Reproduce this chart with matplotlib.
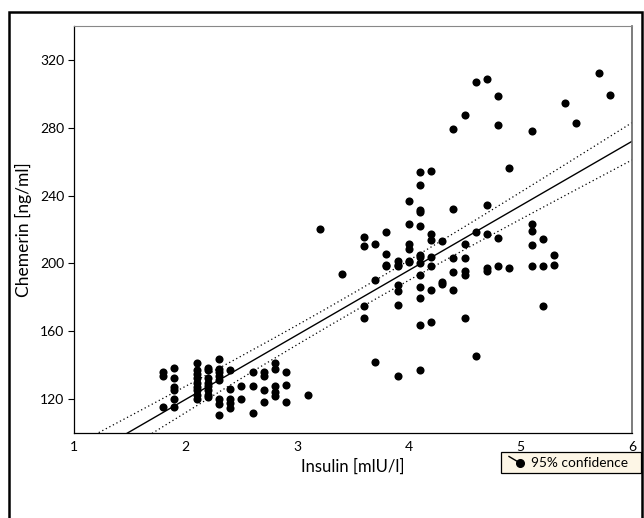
import numpy as np
import matplotlib
matplotlib.use("Agg")
import matplotlib.pyplot as plt
from matplotlib.patches import Rectangle
from matplotlib.lines import Line2D

plt.rcParams['font.family'] = ['Lato', 'DejaVu Sans']

# Data: (insulin, chemerin) grouped by insulin value
insulin_groups = [1.8, 1.9, 2.1, 2.2, 2.3, 2.4, 2.5, 2.6, 2.7, 2.8, 2.9, 3.1, 3.2, 3.4,
                  3.6, 3.7, 3.8, 3.9, 4.0, 4.1, 4.2, 4.3, 4.4, 4.5, 4.6, 4.7, 4.8, 4.9,
                  5.1, 5.2, 5.3, 5.4, 5.5, 5.7, 5.8]
chemerin_groups = [
    [135.7, 133.8, 115.3],
    [138.3, 132.4, 126.9, 125.5, 120.0, 115.3],
    [141.2, 137.0, 135.0, 132.4, 129.4, 127.0, 125.5, 122.5, 119.8],
    [138.3, 136.9, 132.4, 129.4, 127.5, 125.5, 122.6, 121.2],
    [143.8, 137.9, 136.0, 133.5, 131.4, 120.0, 117.2, 110.8],
    [136.9, 125.9, 120.0, 117.5, 114.5],
    [128.0, 120.0],
    [135.7, 127.9, 111.7],
    [135.7, 133.4, 125.5, 118.4],
    [141.2, 137.7, 127.9, 123.9, 121.6],
    [135.7, 128.3, 118.0],
    [122.2],
    [220.4],
    [193.9],
    [215.5, 210.4, 175.0, 167.7],
    [211.6, 190.0, 141.8],
    [218.3, 205.7, 199.2, 198.2],
    [201.3, 199.2, 198.2, 187.4, 183.9, 175.2, 133.4],
    [237.1, 223.4, 211.6, 208.4, 201.3, 200.6],
    [254.2, 246.2, 231.5, 230.5, 221.8, 205.0, 203.5, 200.2, 193.1, 186.0, 179.5, 163.8, 137.3],
    [254.6, 217.5, 213.9, 203.7, 198.6, 184.4, 165.6],
    [213.5, 188.8, 187.8],
    [279.5, 232.0, 202.9, 194.7, 184.6],
    [287.4, 211.4, 202.9, 195.8, 193.3, 167.7],
    [307.2, 218.4, 145.5],
    [308.6, 234.3, 217.1, 197.2, 195.8],
    [298.6, 281.7, 214.7, 198.2],
    [256.1, 197.4],
    [278.2, 223.3, 219.4, 210.6, 198.2],
    [214.3, 198.6, 174.6],
    [204.9, 199.2],
    [294.4],
    [282.7],
    [312.5],
    [299.4],
]

# Regression line and 95% confidence band
reg_slope = 38.05
reg_intercept = 43.7
band_center_x = 3.46
band_min_half = 5.5
band_spread = 3.75

x_ticks = [1, 2, 3, 4, 5, 6]
y_ticks = [120, 160, 200, 240, 280, 320]

ins = np.concatenate([[x] * len(v) for x, v in zip(insulin_groups, chemerin_groups)])
che = np.concatenate(chemerin_groups)

fig = plt.figure(figsize=(6.44, 5.18), dpi=100)
ax = fig.add_axes([74 / 644, 1 - 433 / 518, (632 - 74) / 644, (433 - 26) / 518])

ax.scatter(ins, che, s=34, color='black', zorder=3, linewidths=0)

xx = np.linspace(1, 6, 300)
yy = reg_intercept + reg_slope * xx
half = np.sqrt(band_min_half ** 2 + band_spread ** 2 * (xx - band_center_x) ** 2)
ax.plot(xx, yy, color='black', lw=1.0, zorder=2)
ax.plot(xx, yy + half, color='black', lw=0.9, ls=(0, (1, 2.2)), zorder=2)
ax.plot(xx, yy - half, color='black', lw=0.9, ls=(0, (1, 2.2)), zorder=2)

ax.set_xlim(1, 6)
ax.set_ylim(100, 340)
ax.set_xticks(x_ticks)
ax.set_yticks(y_ticks)
ax.set_xticklabels([str(t) for t in x_ticks])
ax.set_yticklabels([str(t) for t in y_ticks])
ax.tick_params(axis='y', direction='out', length=4, width=0.8, pad=3, labelsize=10)
ax.tick_params(axis='x', direction='out', length=0, pad=6, labelsize=10)

for side in ['left', 'bottom']:
    ax.spines[side].set_color('black')
    ax.spines[side].set_linewidth(0.9)
ax.spines['top'].set_color('#888888')
ax.spines['top'].set_linewidth(0.8)
ax.spines['right'].set_color('#666666')
ax.spines['right'].set_linewidth(1.2)

ax.set_xlabel('Insulin [mlU/l]', fontsize=12, labelpad=4)
ax.set_ylabel('Chemerin [ng/ml]', fontsize=12.5, labelpad=6)

# Outer frame
fig.patches.append(Rectangle((9 / 644, -0.1), (642 - 9) / 644, 1 - 12 / 518 + 0.1,
                             transform=fig.transFigure, fill=False,
                             edgecolor='black', lw=1.8))

# Legend box
lx0, ly0, lx1, ly1 = 501, 452, 641, 473
fig.patches.append(Rectangle((lx0 / 644, 1 - ly1 / 518), (lx1 - lx0) / 644, (ly1 - ly0) / 518,
                             transform=fig.transFigure, facecolor='#fdf6e6',
                             edgecolor='black', lw=0.9))
fig.lines.append(Line2D([509 / 644, 520 / 644], [1 - 456.5 / 518, 1 - 463 / 518],
                        transform=fig.transFigure, color='black', lw=1.0))
fig.lines.append(Line2D([520 / 644], [1 - 463 / 518], transform=fig.transFigure,
                        marker='o', markersize=5.5, color='black', lw=0))
fig.text(531 / 644, 1 - 463 / 518, '95% confidence', fontsize=9.8, va='center', ha='left')

fig.savefig('out.png', dpi=100)
